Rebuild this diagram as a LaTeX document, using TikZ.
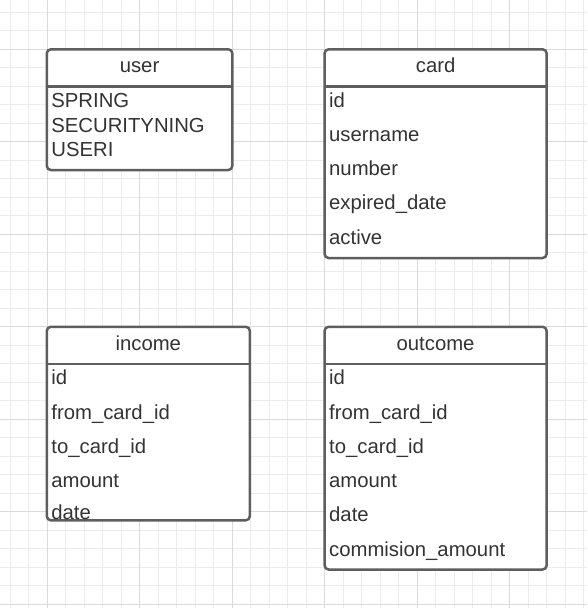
\documentclass[tikz,border=0pt]{standalone}
\usepackage{fontspec}
\setmainfont{Liberation Sans}
\definecolor{gridminor}{HTML}{ECECEC}
\definecolor{gridmajor}{HTML}{DADADA}
\definecolor{boxline}{HTML}{5E5E5E}
\definecolor{txt}{HTML}{333333}

\begin{document}
\begin{tikzpicture}[x=1pt,y=-1pt,
  table/.style={draw=boxline,line width=2.5pt,rounded corners=4pt,fill=white,anchor=north west,inner sep=0pt,outer sep=0pt},
  head/.style={anchor=north west,inner sep=0pt,outer sep=0pt,minimum height=37pt,text height=14pt,text depth=4pt,text=txt,font=\fontsize{20.3}{24}\selectfont},
  row/.style={anchor=base west,inner sep=0pt,text=txt,font=\fontsize{20.3}{24}\selectfont},
  sep/.style={draw=boxline,line width=2.5pt}]
\useasboundingbox (0,0) rectangle (587,608);
\fill[white] (0,0) rectangle (587,608);
\foreach \k in {0,...,31} {
  \draw[gridminor,line width=1pt] ({10.3+18.5*\k},0) -- ({10.3+18.5*\k},608);
}
\foreach \k in {0,...,32} {
  \draw[gridminor,line width=1pt] (0,{12.3+18.5*\k}) -- (587,{12.3+18.5*\k});
}
\foreach \k in {0,...,6} {
  \draw[gridmajor,line width=1pt] ({47.3+92.5*\k},0) -- ({47.3+92.5*\k},608);
  \draw[gridmajor,line width=1pt] (0,{49.3+92.5*\k}) -- (587,{49.3+92.5*\k});
}

% user
\node [table,minimum width=185.5pt,minimum height=120.7pt] (user) at (46.8,49.3) {};
\node [head,minimum width=185.5pt] (userh) at (46.8,49.3) {user};
\draw [sep] (userh.south west) -- (userh.south east);
\node [row] (user1) at (51.2,107.5) {SPRING};
\node [row] (user2) at (51.2,132.2) {SECURITYNING};
\node [row] (user3) at (51.2,156.9) {USERI};

% card
\node [table,minimum width=222pt,minimum height=208.7pt] (card) at (324.6,49.3) {};
\node [head,minimum width=222pt] (cardh) at (324.6,49.3) {card};
\draw [sep] (cardh.south west) -- (cardh.south east);
\node [row] (card1) at (329,107) {id};
\node [row] (card2) at (329,141.3) {username};
\node [row] (card3) at (329,175.5) {number};
\node [row] (card4) at (329,209.8) {expired\_date};
\node [row] (card5) at (329,244) {active};

% income
\node [table,minimum width=203pt,minimum height=193.5pt] (income) at (46.8,326.8) {};
\node [head,minimum width=203pt] (incomeh) at (46.8,326.8) {income};
\draw [sep] (incomeh.south west) -- (incomeh.south east);
\node [row] (income1) at (51.2,384.7) {id};
\node [row] (income2) at (51.2,419) {from\_card\_id};
\node [row] (income3) at (51.2,453.2) {to\_card\_id};
\node [row] (income4) at (51.2,487.5) {amount};
\node [row] (income5) at (51.2,519.7) {date};

% outcome
\node [table,minimum width=222pt,minimum height=242.7pt] (outcome) at (324.6,326.8) {};
\node [head,minimum width=222pt] (outcomeh) at (324.6,326.8) {outcome};
\draw [sep] (outcomeh.south west) -- (outcomeh.south east);
\node [row] (outcome1) at (329,384.7) {id};
\node [row] (outcome2) at (329,419) {from\_card\_id};
\node [row] (outcome3) at (329,453.2) {to\_card\_id};
\node [row] (outcome4) at (329,487.5) {amount};
\node [row] (outcome5) at (329,521.7) {date};
\node [row] (outcome6) at (329,556) {commision\_amount};
\end{tikzpicture}
\end{document}
